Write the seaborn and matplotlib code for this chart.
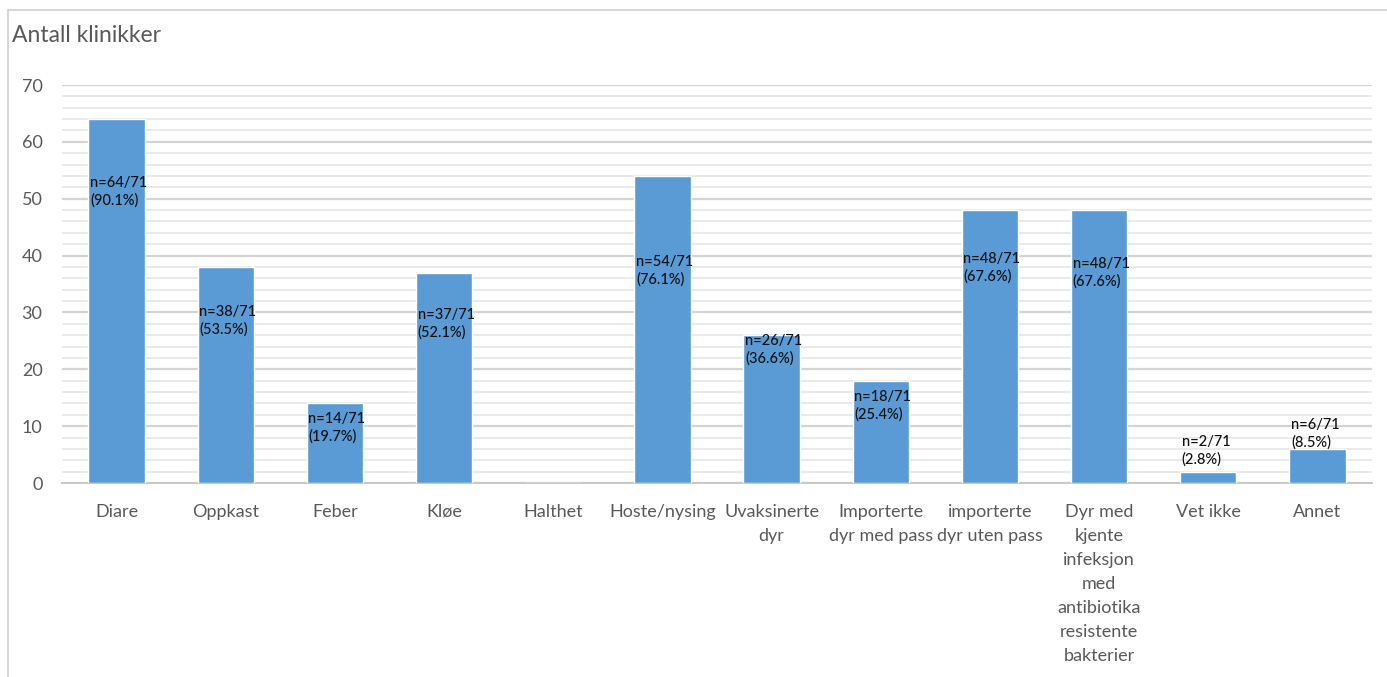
import matplotlib
matplotlib.use("Agg")
import matplotlib.pyplot as plt
from matplotlib.lines import Line2D
import seaborn as sns
import pandas as pd
import numpy as np

# Categories (x axis) and number of clinics answering each
categories = [
    "Diare", "Oppkast", "Feber", "Kløe", "Halthet", "Hoste/nysing",
    "Uvaksinerte\ndyr", "Importerte\ndyr med pass", "importerte\ndyr uten pass",
    "Dyr med\nkjente\ninfeksjon\nmed\nantibiotika\nresistente\nbakterier",
    "Vet ikke", "Annet",
]
counts = [64, 38, 14, 37, 0, 54, 26, 18, 48, 48, 2, 6]
total = 71
percent_labels = ["90.1%", "53.5%", "19.7%", "52.1%", None, "76.1%",
                  "36.6%", "25.4%", "67.6%", "67.6%", "2.8%", "8.5%"]

# Vertical anchor (in axis units) for each data label
label_anchor = [51.2, 28.5, 9.7, 28.0, None, 37.3, 23.4, 13.5, 37.8, 36.9, 5.6, 8.6]

df = pd.DataFrame({"kategori": categories, "antall": counts})

sns.set_theme(style="white")
plt.rcParams["font.family"] = ["Lato", "DejaVu Sans"]

fig = plt.figure(figsize=(13.87, 6.77), dpi=100)
ax = fig.add_axes([62 / 1387, 1 - 483 / 677, (1372 - 62) / 1387, (483 - 85) / 677])

bar_color = "#5B9BD5"
bar_w = 0.515
sns.barplot(data=df, x="kategori", y="antall", color=bar_color, width=bar_w,
            saturation=1, ax=ax, zorder=3)

ax.set_ylim(0, 70)
ax.set_xlim(-0.5, len(categories) - 0.5)
ax.set_yticks(np.arange(0, 71, 10))
ax.set_yticks(np.arange(0, 71, 2), minor=True)
ax.grid(axis="y", which="major", color="#D4D4D4", linewidth=1.6, zorder=0)
ax.grid(axis="y", which="minor", color="#E6E6E6", linewidth=1.2, zorder=0)
ax.set_axisbelow(True)
for side in ["top", "right", "left"]:
    ax.spines[side].set_visible(False)
ax.spines["bottom"].set_color("#C8C8C8")
ax.spines["bottom"].set_linewidth(1.4)
ax.tick_params(axis="both", which="both", length=0)
ax.tick_params(axis="y", labelsize=13, labelcolor="#595959", pad=14)
ax.tick_params(axis="x", labelsize=13, labelcolor="#595959", pad=15)
for lbl in ax.get_xticklabels():
    lbl.set_linespacing(1.62)
ax.set_xlabel("")
ax.set_ylabel("")

# Data labels: count out of total and share
for i, (n, pct, yy) in enumerate(zip(counts, percent_labels, label_anchor)):
    if pct is None:
        continue
    ax.text(i - bar_w / 2 + 0.015, yy, f"n={n}/{total}\n({pct})",
            ha="left", va="center", fontsize=10.5, color="#111111",
            fontweight="medium", linespacing=1.3, zorder=4)

fig.text(12 / 1387, 1 - 36 / 677, "Antall klinikker", fontsize=16.5,
         color="#595959", ha="left", va="center")

# Chart-area frame (top and left edges)
frame = "#D0D0D0"
fig.add_artist(Line2D([8 / 1387, 1.0], [1 - 10 / 677] * 2, color=frame,
                      linewidth=1.2, transform=fig.transFigure))
fig.add_artist(Line2D([8 / 1387] * 2, [0, 1 - 10 / 677], color=frame,
                      linewidth=1.2, transform=fig.transFigure))

fig.savefig("out.png", dpi=100, facecolor="white")
